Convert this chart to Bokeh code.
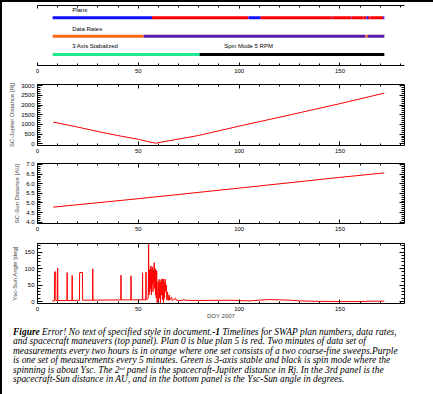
from bokeh.plotting import figure
from bokeh.models import Range1d, LinearAxis, SingleIntervalTicker, PrintfTickFormatter, Div
from bokeh.layouts import column
from bokeh.embed import file_html
from bokeh.resources import INLINE
from bokeh.core.properties import value

# ---------------- data ----------------
# Top panel timelines (DOY 2007)
plan_start = [7.5, 56.8, 104.6, 110.7, 146.3, 146.5, 155.7, 155.9, 161.4, 161.6, 163.1, 163.9, 164.8, 165.0, 171.4]
plan_end = [56.8, 104.6, 110.7, 146.3, 146.5, 155.7, 155.9, 161.4, 161.6, 163.1, 163.9, 164.8, 165.0, 171.4, 172.0]
plan_id = [0, 5, 0, 5, 0, 5, 0, 5, 0, 5, 0, 5, 0, 5, 0]

rate_start = [7.5, 52.6, 162.7, 163.7]
rate_end = [52.6, 162.7, 163.7, 172.0]
rate_kind = ["2hr", "5min", "2hr", "5min"]

mode_start = [7.5, 80.4]
mode_end = [80.4, 172.0]
mode_kind = ["3axis", "spin"]

row_labels = ["Plans", "Data Rates", "3 Axis Stabalized", "Spin Mode 5 RPM"]
row_label_doy = [17.2, 17.2, 17.2, 92.6]

# SC-Jupiter distance [Rj]
jup_doy = [7.8, 20, 31, 40, 50, 55, 58.5, 65, 80, 100, 120, 150, 172]
jup_rj = [1120, 860, 610, 420, 230, 110, 30, 150, 430, 910, 1370, 2070, 2615]

# SC-Sun distance [AU]
sun_doy = [7.8, 50, 100, 150, 172]
sun_au = [4.78, 5.22, 5.77, 6.33, 6.56]

# Ysc-Sun angle [deg]
ang_doy = [7.3, 8.4, 8.5, 8.7, 9.0, 9.1, 9.9, 10.0, 10.1, 14.6, 14.7, 14.8, 17.1, 17.2, 17.3,
           20.8, 20.9, 22.3, 22.4, 27.3, 27.4, 27.5, 41.3, 41.4, 41.5, 46.3, 46.4, 46.5,
           52.0, 52.1, 52.2, 53.7, 53.8, 53.9, 54.9, 55.1, 55.3, 55.5, 55.7, 55.9, 56.1, 56.3,
           56.5, 56.7, 56.9, 57.1, 57.3, 57.5, 57.7, 57.9, 58.1, 58.3, 58.5, 58.7, 58.9, 59.1,
           59.3, 59.6, 59.8, 60.0, 60.3, 60.5, 60.8, 61.0, 61.3, 61.5, 61.8, 62.0, 62.3, 62.5,
           62.8, 63.0, 63.3, 63.6, 63.9, 64.2, 64.5, 64.8, 65.3, 65.6, 66.5, 66.8, 68.5, 68.8,
           72.0, 72.5, 73.0, 80.0, 95.0, 105.0, 110.0, 115.0, 120.0, 125.0, 130.0, 135.0,
           150.0, 160.0, 165.0, 172.0]
ang_deg = [2, 2, 90, 91, 90, 3, 3, 102, 3, 3, 88, 3, 3, 79, 3,
           4, 88, 88, 4, 4, 99, 4, 5, 80, 5, 5, 78, 5,
           5, 87, 5, 5, 89, 5, 10, 176, 20, 95, 30, 100, 40, 108,
           20, 97, 50, 105, 30, 95, 60, 118, 40, 100, 20, 95, 10, 93,
           -3, 5, 60, -4, 67, 10, 59, -5, 66, 20, 69, 5, 68, -3,
           60, 10, 68, 30, 49, 5, 29, 3, 20, 4, 13, 3, 10, 4,
           3, 8, 4, 3, 4, 2, 4, 6, 5, 4, 2, 1,
           0, 0, 1, 1]

x_tick_interval = 50

# ---------------- styling helpers ----------------
FONT = "Liberation Sans"
plan_colors = {0: "#1010ff", 5: "#ff0000"}
rate_colors = {"2hr": "#ff6a10", "5min": "#5a18a8"}
mode_colors = {"3axis": "#20e890", "spin": "#000000"}


def axis(ticker, labels=True, fmt=None, tin=4, mtin=2, standoff=3):
    ax = LinearAxis(ticker=ticker, major_tick_in=tin, major_tick_out=0,
                    minor_tick_in=mtin, minor_tick_out=0,
                    axis_line_color="black", major_tick_line_color="black",
                    minor_tick_line_color="black",
                    major_label_text_font=FONT,
                    major_label_text_font_size="6px",
                    major_label_standoff=standoff if labels else 0,
                    major_label_text_color="black" if labels else None)
    if fmt is not None:
        ax.formatter = fmt
    return ax


def xt():
    return SingleIntervalTicker(interval=x_tick_interval, num_minor_ticks=5)


def make_fig(fh, top, bottom, yr):
    p = figure(frame_width=367, frame_height=fh, x_range=Range1d(0, 182), y_range=yr, title=None,
               toolbar_location=None, output_backend="svg",
               min_border_left=35, min_border_right=25,
               min_border_top=top, min_border_bottom=bottom,
               x_axis_type=None, y_axis_type=None)
    p.outline_line_color = None
    return p


def box_axes(p, interval, ylabel, fmt=None, xlabel=None):
    b = axis(xt(), standoff=3)
    if xlabel:
        b.axis_label = xlabel
        b.axis_label_text_font = FONT
        b.axis_label_text_font_size = "6px"
        b.axis_label_text_font_style = "normal"
        b.axis_label_standoff = -1
    p.add_layout(b, "below")
    p.add_layout(axis(xt(), labels=False), "above")
    l = axis(SingleIntervalTicker(interval=interval, num_minor_ticks=5), fmt=fmt, tin=5, mtin=3)
    l.axis_label = ylabel
    l.axis_label_text_font = FONT
    l.axis_label_text_font_size = "6px"
    l.axis_label_text_font_style = "normal"
    l.axis_label_standoff = 3
    p.add_layout(l, "left")
    r = axis(SingleIntervalTicker(interval=interval, num_minor_ticks=5), labels=False, tin=5, mtin=3)
    p.add_layout(r, "right")


# ---------------- panel 1: timelines ----------------
p1 = make_fig(60, 3, 15, Range1d(0.4, 3.67))
p1.add_layout(axis(xt(), tin=3, mtin=2, standoff=3), "below")
p1.add_layout(axis(xt(), labels=False, tin=3, mtin=2), "above")
p1.segment(x0=plan_start, x1=plan_end, y0=[3] * len(plan_start), y1=[3] * len(plan_start),
           line_color=[plan_colors[i] for i in plan_id], line_width=3, line_cap="butt")
p1.segment(x0=rate_start, x1=rate_end, y0=[2] * len(rate_start), y1=[2] * len(rate_start),
           line_color=[rate_colors[k] for k in rate_kind], line_width=3, line_cap="butt")
p1.segment(x0=mode_start, x1=mode_end, y0=[1] * len(mode_start), y1=[1] * len(mode_start),
           line_color=[mode_colors[k] for k in mode_kind], line_width=3, line_cap="butt")
p1.text(x=row_label_doy, y=[3.4, 2.4, 1.45, 1.45], text=row_labels,
        text_font=value(FONT), text_font_size=value("6px"), text_color="black",
        text_baseline="middle", text_align="left")

# ---------------- panel 2: SC-Jupiter ----------------
p2 = make_fig(61, 4, 12, Range1d(-90, 3060))
box_axes(p2, 500, "SC-Jupiter Distance [Rj]")
p2.line(jup_doy, jup_rj, line_color="red", line_width=1)

# ---------------- panel 3: SC-Sun ----------------
p3 = make_fig(60, 6, 14, Range1d(3.93, 7.05))
box_axes(p3, 0.5, "SC-Sun Distance [AU]", fmt=PrintfTickFormatter(format="%.1f"))
p3.line(sun_doy, sun_au, line_color="red", line_width=1)

# ---------------- panel 4: Ysc-Sun angle ----------------
p4 = make_fig(60, 6, 18, Range1d(-6, 176))
box_axes(p4, 50, "Ysc-Sun Angle [deg]", xlabel="DOY 2007")
p4.line(ang_doy, ang_deg, line_color="red", line_width=1)

# ---------------- caption ----------------
caption = (
    "<div style=\"font-family:'Liberation Serif',serif;font-style:italic;font-size:9.45px;"
    "line-height:9.4px;white-space:nowrap;color:#000;padding:2px 0 0 6px\">"
    "<b>Figure</b> Error! No text of specified style in document.<b>-1</b> Timelines for SWAP plan numbers, data rates,<br>"
    "and spacecraft maneuvers (top panel). Plan 0 is blue plan 5 is red. Two minutes of data set of<br>"
    "measurements every two hours is in orange where one set consists of a two coarse-fine sweeps.Purple<br>"
    "is one set of measurements every 5 minutes. Green is 3-axis stable and black is spin mode where the<br>"
    "spinning is about Ysc. The 2<span style=\"font-size:5px;vertical-align:3px;line-height:0\">nd</span> panel is the spacecraft-Jupiter distance in Rj. In the 3rd panel is the<br>"
    "spacecraft-Sun distance in AU, and in the bottom panel is the Ysc-Sun angle in degrees."
    "</div>"
)
cap = Div(text=caption, width=427, height=69)

root = column(p1, p2, p3, p4, cap,
              styles={"border": "2px solid black", "box-sizing": "content-box",
                      "background-color": "white"})

open("out.html", "w").write(file_html(root, INLINE))
